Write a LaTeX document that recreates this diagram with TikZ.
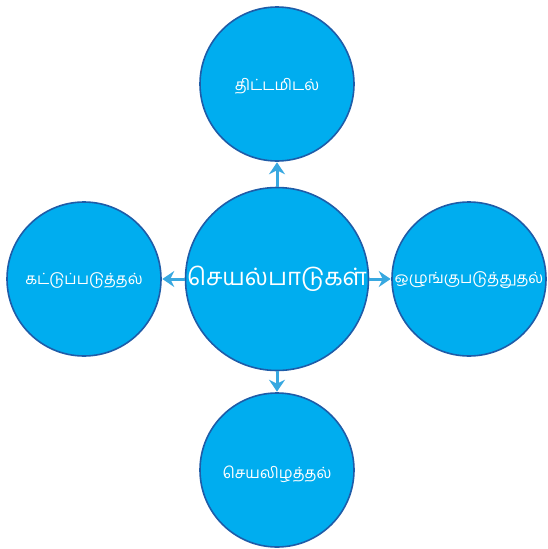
\documentclass[tikz,border=0pt]{standalone}
\usepackage{fontspec}
\newfontfamily\tamil[Script=Tamil]{Hind Madurai}
\usetikzlibrary{arrows.meta}
\definecolor{fillc}{HTML}{00ADEF}
\definecolor{edgec}{HTML}{1E5CA8}
\definecolor{arrc}{HTML}{38A8E0}
\tikzset{
  bubble/.style={circle,fill=fillc,draw=edgec,line width=1.6pt,inner sep=0pt},
  outer/.style={bubble,minimum size=154pt},
  inner/.style={bubble,minimum size=183pt},
  lbl/.style={text=white,font=\tamil\fontsize{15.5pt}{17pt}\selectfont,inner sep=0pt},
  biglbl/.style={text=white,font=\tamil\fontsize{24pt}{26pt}\selectfont,inner sep=0pt},
  arr/.style={draw=arrc,line width=3pt,-{Stealth[length=12pt,width=16pt,inset=4pt]},shorten >=0.5pt}
}
\begin{document}
\begin{tikzpicture}[x=1pt,y=-1pt]
\useasboundingbox (0,0) rectangle (547,549);
\node[inner] (c) at (277,279) {};
\node[outer] (t) at (277,84) {};
\node[outer] (l) at (84,279) {};
\node[outer] (r) at (469,279) {};
\node[outer] (b) at (277,470) {};
\node[biglbl] (ct) at (277,279) {செயல்பாடுகள்};
\node[lbl] (tt) at (277,86) {திட்டமிடல்};
\node[lbl] (lt) at (84,280) {கட்டுப்படுத்தல்};
\node[lbl] (rt) at (469,280) {ஒழுங்குபடுத்துதல்};
\node[lbl] (bt) at (277,474) {செயலிழத்தல்};
\draw[arr] (c.north) -- (t.south);
\draw[arr] (c.south) -- (b.north);
\draw[arr] (c.west) -- (l.east);
\draw[arr] (c.east) -- (r.west);
\end{tikzpicture}
\end{document}
